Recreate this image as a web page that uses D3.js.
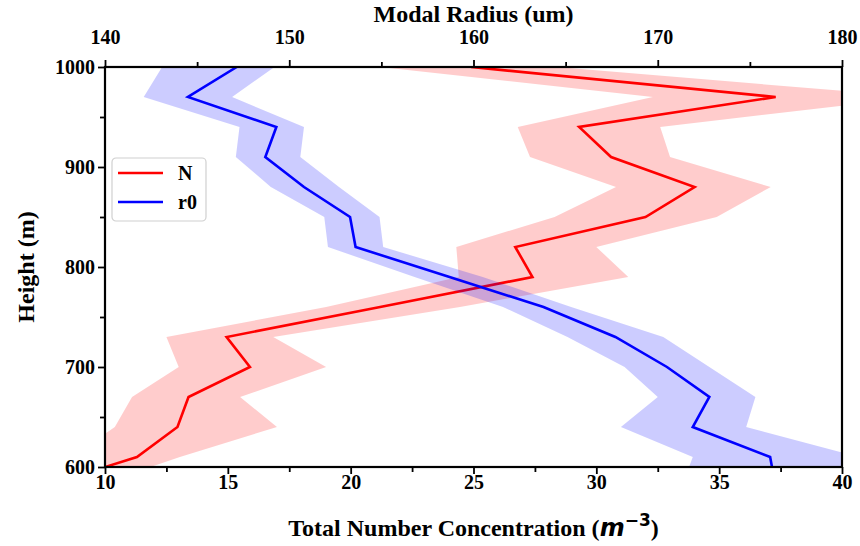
<!DOCTYPE html>
<html>
<head>
<meta charset="utf-8">
<script src="https://cdn.jsdelivr.net/npm/d3@7"></script>
<style>
  body { margin: 0; background: #fff; }
  text { font-family: "Liberation Serif", "Times New Roman", serif; font-weight: bold; }
</style>
</head>
<body>
<div id="container"></div>
<script>
// heights (m) of each sample
var heights = [1000, 970, 940, 910, 880, 850, 820, 790, 760, 730, 700, 670, 640, 610, 600];

// total number concentration N, with its shaded range
var nMean = [24.9, 37.3, 29.3, 30.6, 34.0, 32.0, 26.7, 27.4, 21.2, 14.95, 15.9, 13.4, 12.95, 11.3, 10.0];
var nLow  = [21.2, 32.3, 26.8, 27.3, 30.8, 28.3, 24.3, 24.4, 19.0, 12.5, 13.0, 11.1, 10.4, 8.6, 8.2];
var nHigh = [28.4, 43.0, 32.6, 33.0, 37.1, 34.9, 30.0, 31.3, 24.45, 16.85, 19.0, 15.5, 17.0, 13.05, 11.85];

// modal radius r0, with its shaded range
var rMean = [147.15, 144.5, 149.3, 148.7, 150.8, 153.3, 153.6, 158.7, 163.8, 167.7, 170.5, 172.8, 171.9, 176.1, 176.2];
var rLow  = [143.1, 142.1, 147.3, 147.1, 149.0, 151.9, 152.1, 156.8, 161.6, 165.1, 168.2, 170.0, 168.0, 171.9, 171.7];
var rHigh = [149.2, 146.9, 150.8, 150.6, 152.7, 154.9, 155.1, 160.5, 165.3, 170.3, 172.8, 175.3, 174.8, 180.9, 182.0];

var bottomTicks = [10, 15, 20, 25, 30, 35, 40];
var topTicks = [140, 150, 160, 170, 180];
var heightTicks = [600, 700, 800, 900, 1000];

var margin = {top: 67, right: 18, bottom: 79, left: 105},
	width = 860 - margin.left - margin.right,
	height = 546 - margin.top - margin.bottom;

var svg = d3.select("#container").append("svg")
	.attr("width", 860)
	.attr("height", 546);

var g = svg.append("g")
	.attr("transform", "translate(" + margin.left + "," + margin.top + ")");

// scales
var xN = d3.scaleLinear().domain([10, 40]).range([0, width]);
var xR = d3.scaleLinear().domain([140, 180]).range([0, width]);
var y = d3.scaleLinear().domain([600, 1000]).range([height, 0]);

g.append("clipPath").attr("id", "plotClip")
	.append("rect").attr("width", width).attr("height", height);

var plot = g.append("g").attr("clip-path", "url(#plotClip)");

function drawSeries(xs, mean, low, high, color, fill) {
	var rows = heights.map(function(h, i) { return {h: h, m: mean[i], lo: low[i], hi: high[i]}; });

	var area = d3.area()
		.y(function(d) { return y(d.h); })
		.x0(function(d) { return xs(d.lo); })
		.x1(function(d) { return xs(d.hi); });

	var line = d3.line()
		.y(function(d) { return y(d.h); })
		.x(function(d) { return xs(d.m); });

	plot.append("path").datum(rows)
		.attr("d", area)
		.style("fill", fill)
		.style("stroke", "none");

	plot.append("path").datum(rows)
		.attr("d", line)
		.style("fill", "none")
		.style("stroke", color)
		.style("stroke-width", 2.6)
		.style("stroke-linejoin", "miter");
}

drawSeries(xN, nMean, nLow, nHigh, "#ff0000", "rgba(255,0,0,0.2)");
drawSeries(xR, rMean, rLow, rHigh, "#0000ff", "rgba(0,0,255,0.2)");

// axes
function styleAxis(sel) {
	sel.select(".domain").remove();
	sel.selectAll("line").style("stroke", "#000").style("stroke-width", 1.8);
	sel.selectAll("text").style("font-size", "20px").style("font-weight", "bold")
		.style("font-family", "'Liberation Serif', serif").attr("fill", "#000");
}

var bottomMinor = d3.range(10, 40.1, 2.5).filter(function(v) { return v % 5 != 0; });
g.append("g").attr("transform", "translate(0," + height + ")")
	.call(d3.axisBottom(xN).tickValues(bottomMinor).tickSize(5).tickFormat(""))
	.call(styleAxis);
g.append("g").attr("transform", "translate(0," + height + ")")
	.call(d3.axisBottom(xN).tickValues(bottomTicks).tickSize(7).tickPadding(1).tickFormat(d3.format("d")))
	.call(styleAxis);

var topMinor = [145, 155, 165, 175];
g.append("g")
	.call(d3.axisTop(xR).tickValues(topMinor).tickSize(5).tickFormat(""))
	.call(styleAxis);
g.append("g")
	.call(d3.axisTop(xR).tickValues(topTicks).tickSize(7).tickPadding(16).tickFormat(d3.format("d")))
	.call(styleAxis);

var leftMinor = [650, 750, 850, 950];
g.append("g")
	.call(d3.axisLeft(y).tickValues(leftMinor).tickSize(5).tickFormat(""))
	.call(styleAxis);
g.append("g")
	.call(d3.axisLeft(y).tickValues(heightTicks).tickSize(7).tickPadding(3).tickFormat(d3.format("d")))
	.call(styleAxis);

// frame
g.append("rect")
	.attr("width", width).attr("height", height)
	.style("fill", "none").style("stroke", "#000").style("stroke-width", 2.2);

// titles
g.append("text")
	.attr("x", width / 2).attr("y", -45)
	.attr("text-anchor", "middle")
	.style("font-size", "24px")
	.text("Modal Radius (um)");

var xt = g.append("text")
	.attr("x", width / 2).attr("y", height + 69)
	.attr("text-anchor", "middle")
	.style("font-size", "24px");
xt.append("tspan").text("Total Number Concentration (");
xt.append("tspan").text("m").style("font-family", "'DejaVu Sans', sans-serif").style("font-style", "italic");
xt.append("tspan").text("\u22123").attr("dy", -10).style("font-size", "17px")
	.style("font-family", "'DejaVu Sans', sans-serif");
xt.append("tspan").text(")").attr("dy", 10);

g.append("text")
	.attr("transform", "translate(-71," + (height / 2) + ") rotate(-90)")
	.attr("text-anchor", "middle")
	.style("font-size", "24px")
	.text("Height (m)");

// legend
var legendData = [{name: "N", color: "#ff0000"}, {name: "r0", color: "#0000ff"}];
var legend = g.append("g").attr("transform", "translate(7,91)");
legend.append("rect")
	.attr("width", 94).attr("height", 63).attr("rx", 4)
	.style("fill", "#fff").style("fill-opacity", 0.8)
	.style("stroke", "#d0d0d0").style("stroke-width", 1.2);

var items = legend.selectAll(".item").data(legendData).enter()
	.append("g").attr("class", "item")
	.attr("transform", function(d, i) { return "translate(0," + (15 + i * 29) + ")"; });
items.append("line")
	.attr("x1", 6).attr("x2", 51)
	.style("stroke", function(d) { return d.color; })
	.style("stroke-width", 2.6);
items.append("text")
	.attr("x", 66).attr("y", 7)
	.style("font-size", "20px")
	.text(function(d) { return d.name; });
</script>
</body>
</html>
